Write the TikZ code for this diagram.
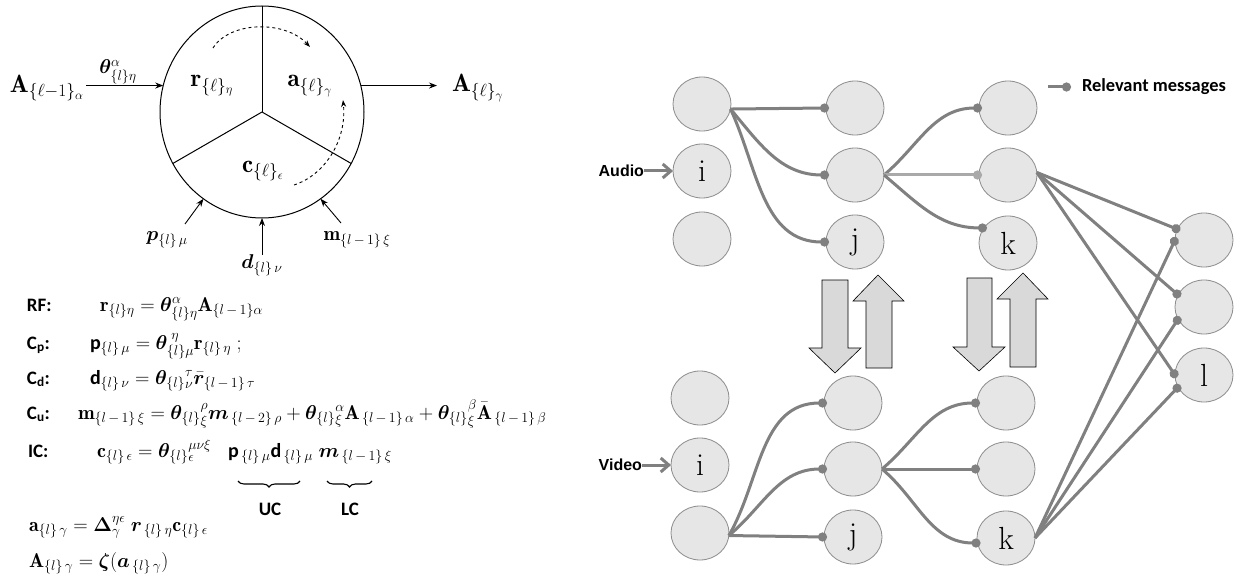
\documentclass[tikz,border=0pt]{standalone}
\usepackage{fix-cm}
\usepackage{amsmath,bm}
\usepackage{fontspec}
\newfontfamily\calib{Carlito}
\newfontfamily\arialf{Liberation Sans}
\usetikzlibrary{arrows.meta,shapes.geometric,decorations.pathreplacing}
\definecolor{edgegray}{HTML}{808080}
\definecolor{lightedge}{HTML}{A9A9A9}
\definecolor{nodefill}{HTML}{E6E6E6}
\definecolor{nodeborder}{HTML}{8C8C8C}
\definecolor{blockfill}{HTML}{D9D9D9}
\newcommand{\cb}{\calib\bfseries}
\begin{document}
\begin{tikzpicture}[x=1pt,y=-1pt,
  every node/.style={inner sep=0pt, outer sep=0pt},
  neuron/.style={ellipse, draw=nodeborder, fill=nodefill, line width=0.8pt,
    minimum width=58pt, minimum height=54pt, inner sep=0pt,
    font=\fontsize{32}{32}\selectfont},
  msg/.style={draw=edgegray, line width=3pt, shorten >=-3pt,
    -{Circle[length=9pt,width=9pt]}},
  weakmsg/.style={draw=lightedge, line width=3pt, shorten >=-3pt,
    -{Circle[length=9pt,width=9pt]}},
  inarrow/.style={draw=edgegray, line width=3pt,
    -{Straight Barb[length=8pt,width=14pt]}},
  blockarrow/.style={fill=blockfill, draw=black, line width=0.6pt},
  cellarrow/.style={-{Stealth[length=8pt,width=6pt]}, line width=0.9pt},
  celltext/.style={font=\fontsize{25}{28}\selectfont},
  sidetext/.style={font=\fontsize{20}{23}\selectfont},
  eqlab/.style={anchor=base west, font=\fontsize{19}{22}\selectfont\cb},
  eqn/.style={anchor=base west, font=\fontsize{20}{23}\selectfont},
  bracelab/.style={font=\fontsize{19}{22}\selectfont\cb},
  underbr/.style={decorate, decoration={brace, mirror, amplitude=6pt}, line width=1.1pt},
  tagtext/.style={font=\fontsize{16}{16}\selectfont\arialf\bfseries}
]
\useasboundingbox (0,0) rectangle (1242,580);
\fill[white] (0,0) rectangle (1242,580);

% ---------------- left: cell ----------------
\node[ellipse, draw, line width=1pt, minimum width=204pt, minimum height=212pt] (cell) at (262,112) {};
\draw[line width=1pt] (cell.center) -- (cell.north);
\draw[line width=1pt] (cell.center) -- (cell.210);
\draw[line width=1pt] (cell.center) -- (cell.330);

\node[celltext] (rl) at (212,86) {$\mathbf{r}_{\{\ell\}_{\eta}}$};
\node[celltext] (al) at (310,86) {$\mathbf{a}_{\{\ell\}_{\gamma}}$};
\node[celltext] (cl) at (263,171) {$\mathbf{c}_{\{\ell\}_{\epsilon}}$};

\coordinate (ds1) at (213,48);
\coordinate (de1) at (310,47);
\draw[dashed, line width=0.9pt, -{Stealth[length=7pt,width=5pt]}] (ds1) .. controls (230,21) and (285,20) .. (de1);
\coordinate (ds2) at (294,185);
\coordinate (de2) at (343,100);
\draw[dashed, line width=0.9pt, -{Stealth[length=7pt,width=5pt]}] (ds2) .. controls (325,175) and (347,140) .. (de2);

\node[celltext, anchor=east] (Ain) at (84,88) {$\mathbf{A}_{\{\ell-1\}_{\alpha}}$};
\node[sidetext] (theta) at (118,72) {$\bm{\theta}_{\{l\}\eta}^{\alpha}$};
\draw[cellarrow, shorten <=2pt] (Ain.east |- cell.165) -- (cell.165);
\node[celltext, anchor=west] (Aout) at (452,88) {$\mathbf{A}_{\{\ell\}_{\gamma}}$};
\draw[cellarrow, shorten >=15pt] (cell.15) -- (cell.15 -| Aout.west);

\node[sidetext] (plab) at (167,240) {$\bm{p}_{\{l\}\,\mu}$};
\coordinate (pst) at (185,224);
\draw[cellarrow] (pst) -- (cell.236);
\node[sidetext] (dlab) at (262,265) {$\bm{d}_{\{l\}\,\nu}$};
\draw[cellarrow] (dlab.north) -- (cell.south);
\node[sidetext] (mlab) at (357,240) {$\mathbf{m}_{\{l\,-\,1\}\,\xi}$};
\coordinate (mst) at (341,223);
\draw[cellarrow] (mst) -- (cell.304);

% ---------------- left: equations ----------------
\node[eqlab] (rf) at (27,311) {RF:};
\node[eqn] (eqrf) at (100,311) {$\mathbf{r}_{\{l\}\eta} = \bm{\theta}_{\{l\}\eta}^{\alpha}\mathbf{A}_{\{l\,-\,1\}\alpha}$};
\node[eqlab] (cp) at (27,349) {C\textsubscript{p}:};
\node[eqn] (eqcp) at (90,349) {$\text{\cb p}_{\{l\}\,\mu} = \bm{\theta}_{\{l\}\mu}^{\;\eta}\mathbf{r}_{\{l\}\,\eta}\;;$};
\node[eqlab] (cd) at (27,384) {C\textsubscript{d}:};
\node[eqn] (eqcd) at (90,384) {$\text{\cb d}_{\{l\}\,\nu} = \bm{\theta}_{\{l\}}{}^{\tau}_{\nu}\bar{\bm{r}}_{\{l\,-\,1\}\,\tau}$};
\node[eqlab] (cu) at (27,419) {C\textsubscript{u}:};
\node[eqn] (eqcu) at (78,419) {$\mathbf{m}_{\{l\,-\,1\}\,\xi} = \bm{\theta}_{\{l\}}{}^{\rho}_{\xi}\bm{m}_{\,\{l\,-\,2\}\,\rho} + \bm{\theta}_{\{l\}}{}^{\alpha}_{\xi}\mathbf{A}_{\,\{l\,-\,1\}\,\alpha} + \bm{\theta}_{\{l\}}{}^{\beta}_{\xi}\bar{\mathbf{A}}_{\,\{l\,-\,1\}\,\beta}$};
\node[eqlab] (ic) at (28,457) {IC:};
\node[eqn] (eqic) at (97,457) {$\mathbf{c}_{\{l\}\,\epsilon} = \bm{\theta}_{\{l\}}{}^{\mu\nu\xi}_{\epsilon}\;\;\;\text{\cb p}_{\,\{l\}\,\mu}\text{\cb d}_{\,\{l\}\,\mu}\;\bm{m}_{\,\{l\,-\,1\}\,\xi}$};
\coordinate (ub1) at (238,481);
\coordinate (ue1) at (300,481);
\coordinate (ub2) at (327,481);
\coordinate (ue2) at (372,481);
\draw[underbr] (ub1) -- (ue1);
\draw[underbr] (ub2) -- (ue2);
\node[bracelab] (uc) at (270,509) {UC};
\node[bracelab] (lc) at (350,509) {LC};
\node[eqn] (eqa) at (29,531) {$\mathbf{a}_{\{l\}\,\gamma} = \bm{\Delta}^{\eta\epsilon}_{\gamma}\;\bm{r}_{\,\{l\}\,\eta}\mathbf{c}_{\{l\}\,\epsilon}$};
\node[eqn] (eqA) at (29,567) {$\mathbf{A}_{\{l\}\,\gamma} = \bm{\zeta}(\bm{a}_{\,\{l\}\,\gamma})$};

% ---------------- right: network ----------------
\node[neuron] (ta1) at (702,104) {};
\node[neuron] (ta2) at (702,171) {i};
\node[neuron] (ta3) at (702,239) {};
\node[neuron] (tb1) at (855,108) {};
\node[neuron] (tb2) at (855,175) {};
\node[neuron] (tb3) at (855,242) {j};
\node[neuron] (tc1) at (1008,108) {};
\node[neuron] (tc2) at (1008,175) {};
\node[neuron] (tc3) at (1008,243) {k};
\node[neuron] (d1) at (1204,240) {};
\node[neuron] (d2) at (1204,307) {};
\node[neuron] (d3) at (1204,375) {l};
\node[neuron] (ba1) at (700,398) {};
\node[neuron] (ba2) at (700,465) {i};
\node[neuron] (ba3) at (700,533) {};
\node[neuron] (bb1) at (853,403) {};
\node[neuron] (bb2) at (853,469) {};
\node[neuron] (bb3) at (853,537) {j};
\node[neuron] (bc1) at (1006,403) {};
\node[neuron] (bc2) at (1006,469) {};
\node[neuron] (bc3) at (1006,538) {k};

\node[tagtext, anchor=east] (audio) at (644,171) {Audio};
\draw[inarrow] (audio.east) -- (ta2.west);
\node[tagtext, anchor=east] (video) at (642,465) {Video};
\draw[inarrow] (video.east) -- (ba2.west);

% top group messages
\draw[msg] (ta1.-10) -- (tb1.west);
\draw[msg] (ta1.-10) to[out=-50,in=180] (tb2.west);
\draw[msg] (ta1.-10) to[out=-65,in=180] (tb3.west);
\draw[msg] (tb2.east) to[out=40,in=180] (tc1.west);
\draw[weakmsg] (tb2.east) -- (tc2.west);
\draw[msg] (tb2.east) to[out=-40,in=180] (tc3.148);
\draw[msg] (tc2.5) -- (d1.158);
\draw[msg] (tc2.5) -- (d2.155);
\draw[msg] (tc2.5) -- (d3.west);
% bottom group messages
\draw[msg] (ba3.-5) to[out=60,in=180] (bb1.west);
\draw[msg] (ba3.-5) to[out=40,in=180] (bb2.west);
\draw[msg] (ba3.-5) -- (bb3.west);
\draw[msg] (bb2.east) to[out=40,in=180] (bc1.west);
\draw[msg] (bb2.east) -- (bc2.west);
\draw[msg] (bb2.east) to[out=-40,in=180] (bc3.190);
\draw[msg] (bc3.east) -- (d1.west);
\draw[msg] (bc3.east) -- (d2.205);
\draw[msg] (bc3.east) -- (d3.205);

% block arrows
\draw[blockarrow] (822,280) -- (848,280) -- (848,348) -- (861,348) -- (835,373) -- (809,348) -- (822,348) -- cycle;
\draw[blockarrow] (866,368) -- (892,368) -- (892,301) -- (904,301) -- (878,275) -- (853,301) -- (866,301) -- cycle;
\draw[blockarrow] (967,278) -- (992,278) -- (992,347) -- (1005,347) -- (979,371) -- (953,347) -- (967,347) -- cycle;
\draw[blockarrow] (1010,367) -- (1036,367) -- (1036,299) -- (1048,299) -- (1023,273) -- (997,299) -- (1010,299) -- cycle;

% legend
\coordinate (lg1) at (1048,87);
\coordinate (lg2) at (1071,87);
\draw[msg, shorten >=0pt] (lg1) -- (lg2);
\node[anchor=west, font=\fontsize{18.4}{20}\selectfont\cb] (legend) at (1082,87) {Relevant messages};
\end{tikzpicture}
\end{document}
